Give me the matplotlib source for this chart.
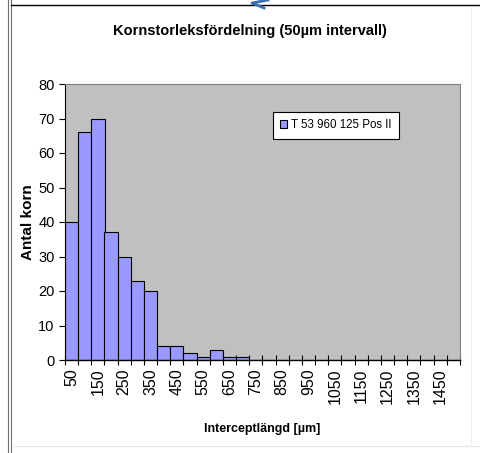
import matplotlib
matplotlib.use('Agg')
import matplotlib.pyplot as plt
import numpy as np
from matplotlib.lines import Line2D

plt.rcParams['font.family'] = ['Liberation Sans', 'DejaVu Sans']

# interval centres (um) and number of grains per 50 um interval
intervals = [50, 100, 150, 200, 250, 300, 350, 400, 450, 500,
             550, 600, 650, 700, 750, 800, 850, 900, 950, 1000,
             1050, 1100, 1150, 1200, 1250, 1300, 1350, 1400, 1450, 1500]
counts = [40, 66, 70, 37, 30, 23, 20, 4, 4, 2,
          1, 3, 1, 1, 0, 0, 0, 0, 0, 0,
          0, 0, 0, 0, 0, 0, 0, 0, 0, 0]
seriesName = 'T 53 960 125 Pos II'

fig = plt.figure(figsize=(4.81, 4.53), dpi=100)
fig.patch.set_facecolor('white')

ax = fig.add_axes([65 / 481, 1 - 360 / 453, 395 / 481, 276 / 453])
ax.set_facecolor('#c0c0c0')

x = np.arange(len(intervals))
ax.bar(x, counts, width=1.0, color='#9999ff', edgecolor='black', linewidth=0.8,
       label=seriesName, zorder=2)

ax.set_xlim(-0.5, len(intervals) - 0.5)
ax.set_ylim(0, 80)
ax.set_yticks(range(0, 81, 10))

# labels on every other bar, tick marks between bars
ax.set_xticks(x[::2])
ax.set_xticklabels([str(v) for v in intervals[::2]], rotation=90, fontsize=11.5)
ax.set_xticks(np.arange(-0.5, len(intervals)), minor=True)
ax.tick_params(axis='x', which='major', length=0, pad=6)
ax.tick_params(axis='x', which='minor', direction='inout', length=7, width=0.8)
ax.tick_params(axis='y', direction='out', length=4, width=0.8, labelsize=10.5)

for side in ['top', 'right']:
    ax.spines[side].set_color('#808080')
    ax.spines[side].set_linewidth(0.8)
ax.spines['left'].set_linewidth(0.8)
ax.spines['bottom'].set_linewidth(1.0)

ax.set_ylabel('Antal korn', fontsize=11, fontweight='bold', labelpad=2)
ax.set_xlabel('Interceptlängd [µm]', fontsize=9, fontweight='bold', labelpad=14)

fig.text(250 / 481, 1 - 31 / 453, 'Kornstorleksfördelning (50µm intervall)',
         ha='center', va='center', fontsize=10.5, fontweight='bold')

leg = ax.legend(loc='upper left', bbox_to_anchor=(208 / 395, 1 - 28 / 276),
                frameon=True, fancybox=False, fontsize=8.3, handlelength=0.6,
                handleheight=0.7, handletextpad=0.3, borderpad=0.65,
                borderaxespad=0)
leg.get_frame().set_edgecolor('black')
leg.get_frame().set_linewidth(0.8)
leg.get_frame().set_facecolor('white')
leg.get_frame().set_alpha(1)

# window frame lines around the chart
fig.add_artist(Line2D([8 / 481, 8 / 481], [0, 1], color='#707070', lw=0.8))
fig.add_artist(Line2D([11 / 481, 11 / 481], [0, 1], color='#707070', lw=0.8))
fig.add_artist(Line2D([11 / 481, 1], [1 - 5 / 453, 1 - 5 / 453], color='black', lw=1.0))
fig.add_artist(Line2D([14 / 481, 1], [1 - 446 / 453, 1 - 446 / 453], color='#e6e6e6', lw=0.8))
fig.add_artist(Line2D([471 / 481, 471 / 481], [1 - 446 / 453, 1 - 8 / 453], color='#eeeeee', lw=0.8))
fig.add_artist(Line2D([268 / 481, 252 / 481, 264 / 481], [1, 1 - 3 / 453, 1 - 8 / 453],
                      color='#3a6fb0', lw=2.0))

fig.savefig('out.png', dpi=100)
